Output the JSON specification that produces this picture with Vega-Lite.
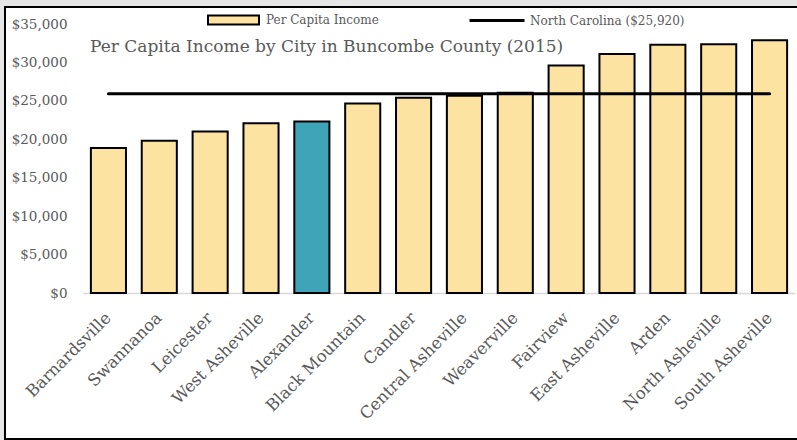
{
  "$schema": "https://vega.github.io/schema/vega-lite/v6.json",
  "width": 795,
  "height": 432,
  "autosize": {"type": "none"},
  "padding": {"left": 5, "top": 7, "right": -3, "bottom": 1},
  "background": "#e6e6e6",
  "config": {
    "view": {"fill": "white", "stroke": "black", "strokeWidth": 2},
    "font": "DejaVu Serif"
  },
  "title": {
    "text": "Per Capita Income by City in Buncombe County (2015)",
    "anchor": "start",
    "frame": "group",
    "offset": 0,
    "dx": 85,
    "dy": 77,
    "baseline": "alphabetic",
    "fontSize": 17,
    "fontWeight": "normal",
    "color": "#595959",
    "font": "DejaVu Serif"
  },
  "data": {
    "values": [
      {"city": "Barnardsville", "income": 18850, "group": "Per Capita Income", "nc": 25920},
      {"city": "Swannanoa", "income": 19800, "group": "Per Capita Income", "nc": 25920},
      {"city": "Leicester", "income": 21000, "group": "Per Capita Income", "nc": 25920},
      {"city": "West Asheville", "income": 22100, "group": "Per Capita Income", "nc": 25920},
      {"city": "Alexander", "income": 22300, "group": "Alexander", "nc": 25920},
      {"city": "Black Mountain", "income": 24650, "group": "Per Capita Income", "nc": 25920},
      {"city": "Candler", "income": 25400, "group": "Per Capita Income", "nc": 25920},
      {"city": "Central Asheville", "income": 25650, "group": "Per Capita Income", "nc": 25920},
      {"city": "Weaverville", "income": 26050, "group": "Per Capita Income", "nc": 25920},
      {"city": "Fairview", "income": 29600, "group": "Per Capita Income", "nc": 25920},
      {"city": "East Asheville", "income": 31100, "group": "Per Capita Income", "nc": 25920},
      {"city": "Arden", "income": 32300, "group": "Per Capita Income", "nc": 25920},
      {"city": "North Asheville", "income": 32350, "group": "Per Capita Income", "nc": 25920},
      {"city": "South Asheville", "income": 32900, "group": "Per Capita Income", "nc": 25920}
    ]
  },
  "encoding": {
    "x": {
      "field": "city",
      "type": "nominal",
      "sort": null,
      "scale": {"range": [78, 790], "paddingInner": 0.31, "paddingOuter": 0.155},
      "axis": {
        "orient": "bottom",
        "offset": -146,
        "title": null,
        "domain": true,
        "domainColor": "#d9d9d9",
        "domainWidth": 1.5,
        "ticks": false,
        "tickSize": 0,
        "grid": false,
        "labelAngle": -45,
        "labelAlign": "right",
        "labelBaseline": "middle",
        "labelPadding": 22,
        "labelFontSize": 16.5,
        "labelFont": "DejaVu Serif",
        "labelColor": "#595959",
        "labelOverlap": false,
        "labelLimit": 300
      }
    }
  },
  "layer": [
    {
      "mark": {"type": "bar", "stroke": "black", "strokeWidth": 2},
      "encoding": {
        "y": {
          "field": "income",
          "type": "quantitative",
          "scale": {"domain": [0, 35000], "range": [286, 17], "nice": false, "zero": true},
          "axis": {
            "orient": "left",
            "offset": -66,
            "title": null,
            "domain": false,
            "ticks": false,
            "tickSize": 0,
            "grid": false,
            "labelPadding": 4,
            "values": [0, 5000, 10000, 15000, 20000, 25000, 30000, 35000],
            "format": "$,.0f",
            "labelFontSize": 13.5,
            "labelFont": "DejaVu Serif",
            "labelColor": "#595959",
            "labelOverlap": false
          }
        },
        "fill": {
          "field": "group",
          "type": "nominal",
          "scale": {"domain": ["Per Capita Income", "Alexander"], "range": ["#fce3a2", "#40a4b8"]},
          "legend": {
            "orient": "none",
            "legendX": 202,
            "legendY": -13.5,
            "values": ["Per Capita Income"],
            "title": null,
            "padding": 0,
            "symbolType": "M-1,-0.18H1V0.18H-1Z",
            "symbolSize": 2601,
            "symbolStrokeColor": "black",
            "symbolStrokeWidth": 2,
            "symbolOpacity": 1,
            "labelFontSize": 12,
            "labelFont": "DejaVu Serif",
            "labelColor": "#595959",
            "labelOffset": 6
          }
        }
      }
    },
    {
      "mark": {"type": "line", "strokeWidth": 3, "strokeCap": "round"},
      "encoding": {
        "y": {"field": "nc", "type": "quantitative"},
        "stroke": {
          "datum": "North Carolina ($25,920)",
          "scale": {"range": ["black"]},
          "legend": {
            "orient": "none",
            "legendX": 463,
            "legendY": -15.5,
            "title": null,
            "padding": 0,
            "symbolType": "M-1,0H1",
            "symbolSize": 3025,
            "symbolStrokeWidth": 3,
            "symbolFillColor": "transparent",
            "labelFontSize": 12,
            "labelFont": "DejaVu Serif",
            "labelColor": "#595959",
            "labelOffset": 4
          }
        }
      }
    }
  ]
}
